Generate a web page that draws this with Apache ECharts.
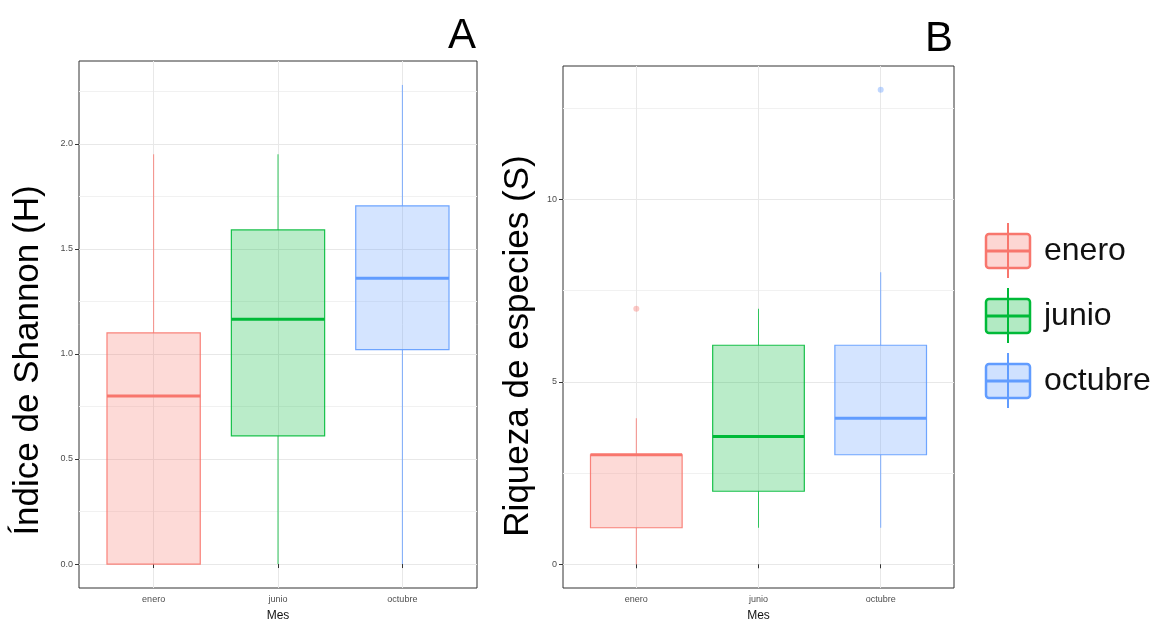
<!DOCTYPE html>
<html>
<head>
<meta charset="utf-8">
<script src="https://cdn.jsdelivr.net/npm/echarts@6/dist/echarts.min.js"></script>
<style>
  html, body { margin: 0; padding: 0; background: #fff; }
  #chart { width: 1160px; height: 627px; }
</style>
</head>
<body>
<div id="chart"></div>
<script>
// Sampling months and their fill colours
const months = ['enero', 'junio', 'octubre'];
const monthColors = ['#F8766D', '#00BA38', '#619CFF'];

// Shannon index per month: [lower whisker, Q1, median, Q3, upper whisker]
const shannonStats = [
  [0, 0, 0.80, 1.10, 1.95],
  [0, 0.61, 1.165, 1.59, 1.95],
  [0, 1.02, 1.36, 1.705, 2.28]
];
const shannonOutliers = [];

// Species richness per month: [lower whisker, Q1, median, Q3, upper whisker]
const riquezaStats = [
  [0, 1, 3, 3, 4],
  [1, 2, 3.5, 6, 7],
  [1, 3, 4, 6, 8]
];
// Outliers as [month position, value]
const riquezaOutliers = [[1, 7], [3, 13]];

// Tick labels
const shannonTicks = [0, 0.5, 1, 1.5, 2];
const shannonMinor = [0.25, 0.75, 1.25, 1.75, 2.25];
const riquezaTicks = [0, 5, 10];
const riquezaMinor = [2.5, 7.5, 12.5];

const FONT = 'Liberation Sans, Arial, sans-serif';

function withAlpha(hex, a) {
  const n = parseInt(hex.slice(1), 16);
  return 'rgba(' + (n >> 16) + ',' + ((n >> 8) & 255) + ',' + (n & 255) + ',' + a + ')';
}

// y range with 5% padding on both sides, like ggplot's default expansion
function paddedRange(stats, outliers) {
  const vals = [];
  stats.forEach(s => vals.push(...s));
  outliers.forEach(o => vals.push(o[1]));
  const lo = Math.min(...vals), hi = Math.max(...vals);
  const pad = (hi - lo) * 0.05;
  return [lo - pad, hi + pad];
}

function boxRows(stats) {
  return stats.map((s, i) => [i + 1].concat(s));
}

function renderBox(params, api) {
  const pos = api.value(0);
  const low = api.coord([pos, api.value(1)]);
  const q1 = api.coord([pos, api.value(2)]);
  const med = api.coord([pos, api.value(3)]);
  const q3 = api.coord([pos, api.value(4)]);
  const high = api.coord([pos, api.value(5)]);
  const c = monthColors[params.dataIndex];
  const half = api.size([0.75, 0])[0] / 2;
  const x = med[0];
  return {
    type: 'group',
    children: [
      { type: 'line', shape: { x1: x, y1: q3[1], x2: x, y2: high[1] }, style: { stroke: c, lineWidth: 1, opacity: 0.8 } },
      { type: 'line', shape: { x1: x, y1: q1[1], x2: x, y2: low[1] }, style: { stroke: c, lineWidth: 1, opacity: 0.8 } },
      { type: 'rect', shape: { x: x - half, y: q3[1], width: half * 2, height: q1[1] - q3[1] },
        style: { fill: withAlpha(c, 0.3), stroke: c, lineWidth: 1.2, opacity: 0.9 } },
      { type: 'line', shape: { x1: x - half, y1: med[1], x2: x + half, y2: med[1] }, style: { stroke: c, lineWidth: 3 } }
    ]
  };
}

const shRange = paddedRange(shannonStats, shannonOutliers);
const riRange = paddedRange(riquezaStats, riquezaOutliers);

const gridLine = '#e8e8e8';
const minorLine = '#f1f1f1';

function xAxis(gridIndex) {
  return {
    type: 'value', gridIndex: gridIndex, min: 0.4, max: 3.6,
    axisLine: { show: false },
    axisTick: { show: true, customValues: [1, 2, 3], length: 4, lineStyle: { color: '#333', width: 1 } },
    axisLabel: { customValues: [1, 2, 3], formatter: v => months[Math.round(v) - 1],
      color: '#4d4d4d', fontSize: 9, margin: 7, fontFamily: FONT },
    splitLine: { show: true, lineStyle: { color: gridLine, width: 1 } },
    name: 'Mes', nameLocation: 'middle', nameGap: 22,
    nameTextStyle: { color: '#111', fontSize: 12, fontFamily: FONT }
  };
}

function yAxis(gridIndex, range, ticks, digits, title, gap, shift) {
  return {
    type: 'value', gridIndex: gridIndex, min: range[0], max: range[1],
    axisLine: { show: false },
    axisTick: { show: true, customValues: ticks, length: 4, lineStyle: { color: '#333', width: 1 } },
    axisLabel: { customValues: ticks, formatter: v => v.toFixed(digits),
      color: '#4d4d4d', fontSize: 9, margin: 6, fontFamily: FONT },
    splitLine: { show: true, lineStyle: { color: gridLine, width: 1 } },
    name: title, nameLocation: 'middle', nameGap: gap,
    nameTextStyle: { color: '#000', fontSize: 35, fontFamily: FONT, padding: [0, shift, 0, 0] }
  };
}

function minorAxis(gridIndex, range, minor) {
  return {
    type: 'value', gridIndex: gridIndex, min: range[0], max: range[1], position: 'right',
    axisLine: { show: false },
    axisTick: { show: false, customValues: minor },
    axisLabel: { show: false },
    splitLine: { show: true, lineStyle: { color: minorLine, width: 1 } }
  };
}

// Legend keys drawn in the boxplot-key style
const legendItems = [];
months.forEach((m, i) => {
  const cy = 251 + i * 65;
  const c = monthColors[i];
  legendItems.push(
    { type: 'line', shape: { x1: 1008, y1: cy - 28, x2: 1008, y2: cy + 27 }, style: { stroke: c, lineWidth: 2 } },
    { type: 'rect', shape: { x: 986, y: cy - 17, width: 44, height: 34, r: 3 },
      style: { fill: withAlpha(c, 0.3), stroke: c, lineWidth: 2.5 } },
    { type: 'line', shape: { x1: 986, y1: cy, x2: 1030, y2: cy }, style: { stroke: c, lineWidth: 3 } },
    { type: 'text', x: 1044, y: cy, style: { text: m, fontSize: 32, fill: '#111',
      fontFamily: FONT, verticalAlign: 'middle', align: 'left' } }
  );
});

const chart = echarts.init(document.getElementById('chart'), null, { renderer: 'canvas' });
chart.setOption({
  backgroundColor: '#fff',
  animation: false,
  title: [
    { text: 'A', left: 443, top: 10, textStyle: { fontSize: 42, fontWeight: 'normal', color: '#000', fontFamily: FONT } },
    { text: 'B', left: 920, top: 13, textStyle: { fontSize: 42, fontWeight: 'normal', color: '#000', fontFamily: FONT } }
  ],
  grid: [
    { left: 79, top: 61, width: 398, height: 536, show: true, borderColor: '#333', borderWidth: 1, backgroundColor: 'transparent' },
    { left: 563, top: 66, width: 391, height: 531, show: true, borderColor: '#333', borderWidth: 1, backgroundColor: 'transparent' }
  ],
  xAxis: [xAxis(0), xAxis(1)],
  yAxis: [
    yAxis(0, shRange, shannonTicks, 1, 'Índice de Shannon (H)', 33, 72),
    minorAxis(0, shRange, shannonMinor),
    yAxis(1, riRange, riquezaTicks, 0, 'Riqueza de especies (S)', 27, 38),
    minorAxis(1, riRange, riquezaMinor)
  ],
  series: [
    { type: 'custom', xAxisIndex: 0, yAxisIndex: 0, renderItem: renderBox,
      data: boxRows(shannonStats), encode: { x: 0, y: [1, 2, 3, 4, 5] }, z: 3 },
    { type: 'scatter', xAxisIndex: 0, yAxisIndex: 0, data: shannonOutliers, symbolSize: 6 },
    { type: 'custom', xAxisIndex: 1, yAxisIndex: 2, renderItem: renderBox,
      data: boxRows(riquezaStats), encode: { x: 0, y: [1, 2, 3, 4, 5] }, z: 3 },
    { type: 'scatter', xAxisIndex: 1, yAxisIndex: 2, symbolSize: 6, z: 4,
      data: riquezaOutliers.map(o => ({ value: o, itemStyle: { color: withAlpha(monthColors[o[0] - 1], 0.5) } })) }
  ],
  graphic: legendItems
});
</script>
</body>
</html>
